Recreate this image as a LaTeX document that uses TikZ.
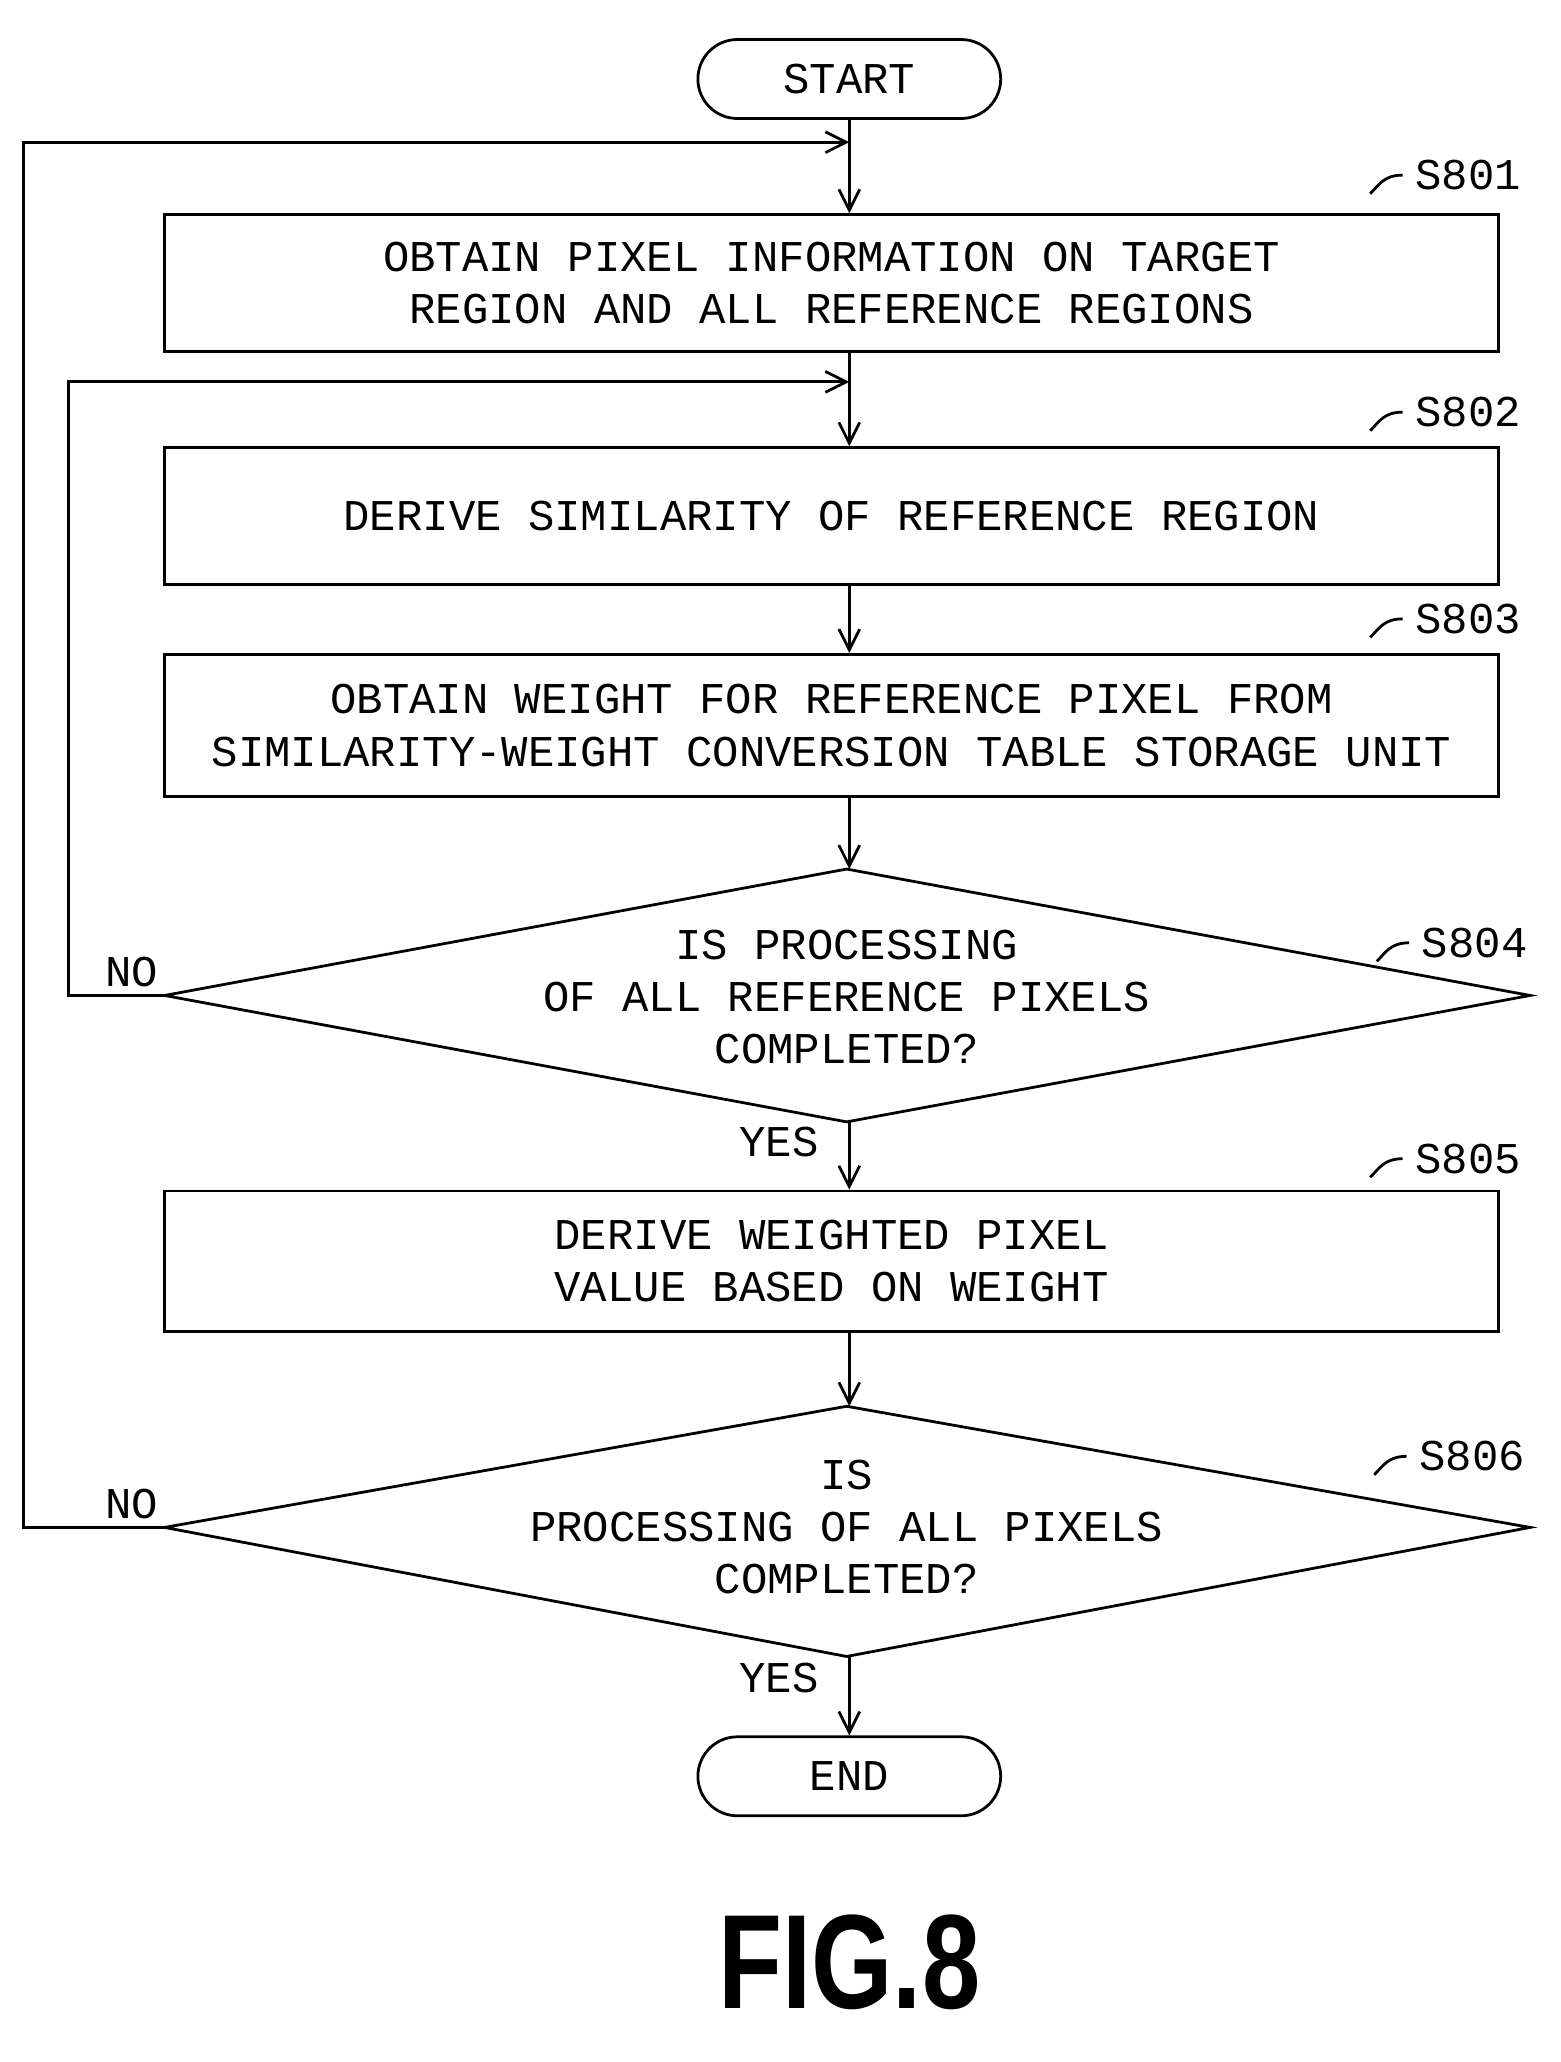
\documentclass[tikz,border=0pt]{standalone}
\usepackage{fontspec}
\setmainfont{Liberation Mono}
\newfontfamily\figfont{Liberation Sans}
\usetikzlibrary{arrows.meta}
\begin{document}
\begin{tikzpicture}[x=0.02cm,y=-0.02cm,
  box/.style={draw,line width=1.2pt,minimum width=20.26cm,minimum height=2.08cm,align=center,font=\fontsize{19}{22.5}\selectfont,inner sep=0pt},
  term/.style={draw,line width=1.2pt,rounded corners=0.6cm,minimum width=4.6cm,minimum height=1.2cm,font=\fontsize{19}{24}\selectfont},
  txt/.style={font=\fontsize{19}{22.5}\selectfont,align=center},
  lbl/.style={font=\fontsize{19}{24}\selectfont},
  ln/.style={line width=1.2pt},
  arr/.style={ln,-{Straight Barb[length=9pt,width=9pt]}}]
\useasboundingbox (0,0) rectangle (1185,1566);
\node[term] (start) at (645,60) {START};
\node[box] (s801) at (631.5,215) {OBTAIN PIXEL INFORMATION ON TARGET\\REGION AND ALL REFERENCE REGIONS};
\node[box] (s802) at (631.5,392) {DERIVE SIMILARITY OF REFERENCE REGION};
\node[box,minimum height=2.16cm] (s803) at (631.5,551) {OBTAIN WEIGHT FOR REFERENCE PIXEL FROM\\SIMILARITY-WEIGHT CONVERSION TABLE STORAGE UNIT};
\node[txt] (s804) at (643,757) {IS PROCESSING\\OF ALL REFERENCE PIXELS\\COMPLETED?};
\coordinate (d4t) at (643,660); \coordinate (d4b) at (643,852);
\coordinate (d4l) at (125,756); \coordinate (d4r) at (1162,756);
\draw[ln] (d4t)--(d4r)--(d4b)--(d4l)--cycle;
\node[box,minimum height=2.14cm] (s805) at (631.5,958) {DERIVE WEIGHTED PIXEL\\VALUE BASED ON WEIGHT};
\node[txt] (s806) at (643,1160) {IS\\PROCESSING OF ALL PIXELS\\COMPLETED?};
\coordinate (d6t) at (643,1068); \coordinate (d6b) at (643,1258);
\coordinate (d6l) at (125,1160); \coordinate (d6r) at (1162,1160);
\draw[ln] (d6t)--(d6r)--(d6b)--(d6l)--cycle;
\node[term] (end) at (645,1349) {END};
\node[font=\figfont\bfseries\fontsize{58}{60}\selectfont,xscale=0.78] (fig) at (645,1490) {FIG.8};
% step labels
\foreach \n/\y/\x in {S801/133/1115,S802/313/1115,S803/470/1115,S804/716/1120,S805/880/1115,S806/1106/1118}{
  \node[lbl] (l\n) at (\x,\y) {\n};
  \draw[ln] ([xshift=-2pt]l\n.west) .. controls +(-8pt,0pt) and +(4pt,4pt) .. +(-14pt,-8pt);
}
% connectors
\coordinate (j1) at (645,108);
\coordinate (j2) at (645,290);
\draw[arr] (start) -- (s801.north -| start);
\draw[arr] (s801.south -| start) -- (s802.north -| start);
\draw[arr] (s802.south -| start) -- (s803.north -| start);
\draw[arr] (s803.south -| start) -- (d4t -| start);
\draw[arr] (d4b -| start) -- (s805.north -| start);
\draw[arr] (s805.south -| start) -- (d6t -| start);
\draw[arr] (d6b -| start) -- (end);
\draw[arr] (d4l) -- (52,756) -- (52,290) -- (j2);
\draw[arr] (d6l) -- (18,1160) -- (18,108) -- (j1);
\node[lbl,anchor=south] at (100,756) {NO};
\node[lbl,anchor=south] at (100,1160) {NO};
\node[lbl,anchor=east] at (628,867) {YES};
\node[lbl,anchor=east] at (628,1274) {YES};
\end{tikzpicture}
\end{document}
